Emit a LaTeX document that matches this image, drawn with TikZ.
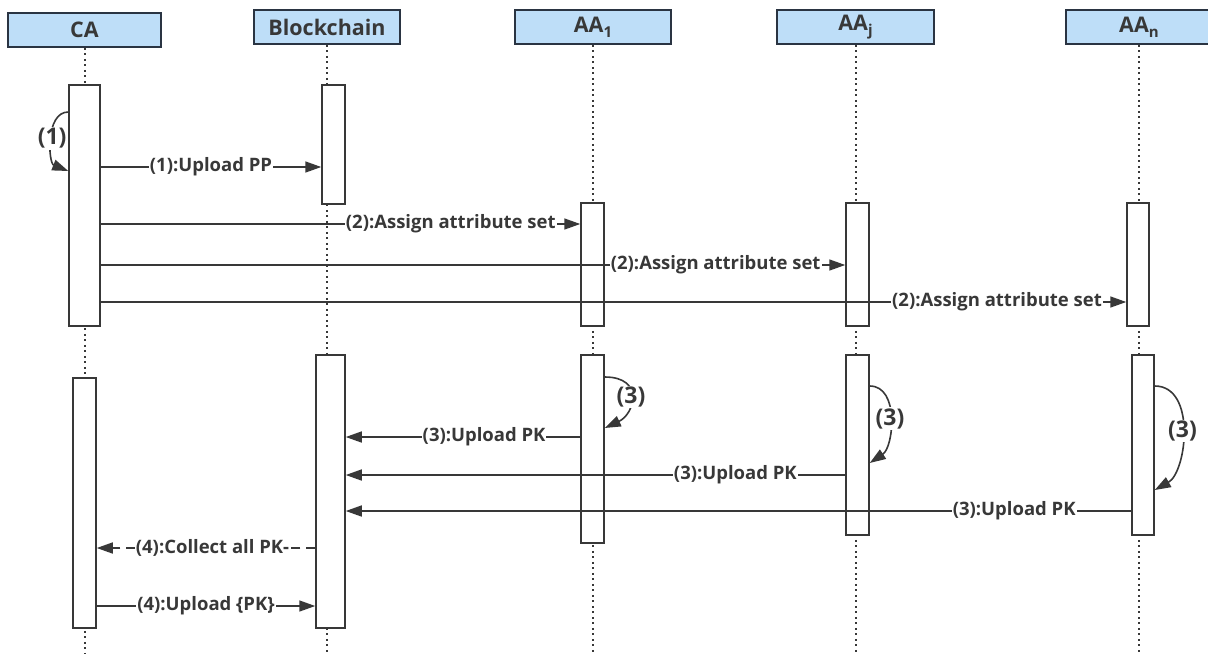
\documentclass[tikz,border=0pt]{standalone}
\usepackage{fontspec}
\setmainfont{Open Sans}
\usepackage{tikz}
\usetikzlibrary{arrows.meta}

\definecolor{hdrblue}{HTML}{BEDEF8}
\definecolor{hdrline}{HTML}{2A3442}
\definecolor{ink}{HTML}{383838}

\newcommand{\lowsub}[1]{\raisebox{-5pt}{\fontsize{15}{15}\selectfont #1}}

\begin{document}
\begin{tikzpicture}[x=1pt,y=-1pt,
  actor/.style={draw=hdrline,line width=1.6pt,fill=hdrblue,minimum height=34pt,
    inner sep=0pt,text=ink,font=\fontsize{21.5}{23}\selectfont\bfseries},
  bar/.style={draw=ink,line width=1.5pt,fill=white,minimum width=23pt,inner sep=0pt},
  life/.style={draw=ink,line width=2pt,dash pattern=on 2pt off 3.5pt},
  msg/.style={draw=ink,line width=1.6pt,-{Triangle[length=16pt,width=11pt]}},
  ret/.style={msg,dash pattern=on 9pt off 6pt},
  lbl/.style={fill=white,inner sep=1pt,text=ink,font=\fontsize{18.5}{20}\selectfont\bfseries},
  selflbl/.style={lbl,font=\fontsize{23}{25}\selectfont\bfseries}]
  \clip (0,0) rectangle (1208,654);
  \coordinate (bot) at (0,654);

  %% lifeline heads
  \node[actor,minimum width=153pt] (ca)  at (84.5,30) {CA};
  \node[actor,minimum width=146pt] (bc)  at (327,27)  {Blockchain};
  \node[actor,minimum width=156pt] (aa1) at (593,27)  {AA\lowsub{1}};
  \node[actor,minimum width=157pt] (aaj) at (855.5,27) {AA\lowsub{j}};
  \node[actor,minimum width=146pt] (aan) at (1139,27) {AA\lowsub{n}};
  \foreach \n in {ca,bc,aa1,aaj,aan}
    \draw[life] (\n.south) -- (\n.south |- bot);

  %% activation bars, setup phase
  \node[bar,minimum width=31pt,minimum height=241pt] (ca1)  at (84.5,205.5) {};
  \node[bar,minimum height=119pt] (bc1)  at (333.5,144.5) {};
  \node[bar,minimum height=123pt] (aa1a) at (592.5,264.5) {};
  \node[bar,minimum height=123pt] (aaja) at (857.5,264.5) {};
  \node[bar,minimum width=22pt,minimum height=123pt] (aana) at (1138,264.5) {};
  %% activation bars, key phase
  \node[bar,minimum height=250pt] (ca2)  at (84.5,503) {};
  \node[bar,minimum width=29pt,minimum height=273pt] (bc2) at (330.5,491.5) {};
  \node[bar,minimum height=188pt] (aa1b) at (592.5,449) {};
  \node[bar,minimum height=180pt] (aajb) at (857.5,445) {};
  \node[bar,minimum width=22pt,minimum height=180pt] (aanb) at (1143,445) {};

  % message heights
  \coordinate (m1) at (0,167);
  \coordinate (m2) at (0,224);
  \coordinate (m3) at (0,265);
  \coordinate (m4) at (0,302);
  \coordinate (m5) at (0,437);
  \coordinate (m6) at (0,475);
  \coordinate (m7) at (0,511);
  \coordinate (m8) at (0,548);
  \coordinate (m9) at (0,606);

  % (1) CA generates and uploads PP
  \draw[msg] (ca1.west |- 0,112) .. controls +(-23,0) and +(-20,-8) ..
    node[selflbl,pos=.5] {(1)} (ca1.west |- 0,171);
  \draw[msg] (ca1.east |- m1) -- node[lbl] {(1):Upload PP} (bc1.west |- m1);

  % (2) attribute sets
  \draw[msg] (ca1.east |- m2) -- node[lbl,pos=.73]  {(2):Assign attribute set} (aa1a.west |- m2);
  \draw[msg] (ca1.east |- m3) -- node[lbl,pos=.826] {(2):Assign attribute set} (aaja.west |- m3);
  \draw[msg] (ca1.east |- m4) -- node[lbl,pos=.874] {(2):Assign attribute set} (aana.west |- m4);

  % (3) each AA computes and uploads its PK
  \draw[msg] (aa1b.east |- 0,377) .. controls +(40,0) and +(30,-14) ..
    node[selflbl,pos=.5] {(3)} (aa1b.east |- 0,428);
  \draw[msg] (aajb.east |- 0,386) .. controls +(30,0) and +(24,-16) ..
    node[selflbl,pos=.5] {(3)} (aajb.east |- 0,463);
  \draw[msg] (aanb.east |- 0,386) .. controls +(42,0) and +(32,-18) ..
    node[selflbl,pos=.5] {(3)} (aanb.east |- 0,490);
  \draw[msg] (aa1b.west |- m5) -- node[lbl,pos=.41]  {(3):Upload PK} (bc2.east |- m5);
  \draw[msg] (aajb.west |- m6) -- node[lbl,pos=.22]  {(3):Upload PK} (bc2.east |- m6);
  \draw[msg] (aanb.west |- m7) -- node[lbl,pos=.149] {(3):Upload PK} (bc2.east |- m7);

  % (4) CA collects the keys
  \draw[ret] (bc2.west |- m8) -- node[lbl,pos=.47] {(4):Collect all PK-} (ca2.east |- m8);
  \draw[msg] (ca2.east |- m9) -- node[lbl] {(4):Upload \{PK\}} (bc2.west |- m9);
\end{tikzpicture}
\end{document}
